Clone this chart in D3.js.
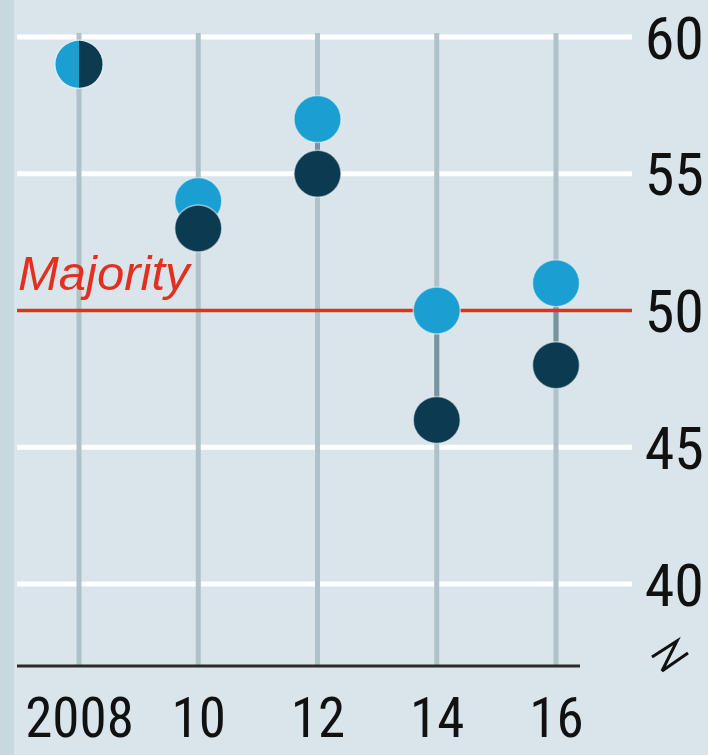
<!DOCTYPE html>
<html>
<head>
<meta charset="utf-8">
<script src="https://cdn.jsdelivr.net/npm/d3@7"></script>
<style>
  html, body { margin: 0; padding: 0; background: #d9e5eb; }
  svg { display: block; }
</style>
</head>
<body>
<svg id="chart" width="708" height="755"></svg>
<script>
// Election years and the two shares (per cent) plotted for each
const years = [2008, 2010, 2012, 2014, 2016];
const yearLabels = ["2008", "10", "12", "14", "16"];
const lightValues = [59, 54, 57, 50, 51];
const darkValues = [59, 53, 55, 46, 48];
const yTicks = [40, 45, 50, 55, 60];
const majorityLevel = 50;

const W = 708, H = 755;
const svg = d3.select("#chart");

const colors = {
  bg: "#d9e5eb",
  strip: "#c9d8df",
  grid: "#ffffff",
  stem: "#afc1c9",
  stemDark: "#7893a0",
  light: "#1b9fd2",
  dark: "#0c3a51",
  red: "#e3301e",
  axis: "#2a2a2a",
  text: "#111111"
};
const digitFont = "'Liberation Sans Narrow', 'Roboto Condensed', 'DejaVu Sans Condensed', sans-serif";

const x = d3.scaleLinear().domain([2008, 2016]).range([79, 556]);
const y = d3.scaleLinear().domain([40, 60]).range([584, 37]);
const plotLeft = 17, plotRight = 632, gridRight = 632, baseRight = 580;
const baseY = y(37);
const r = 23.5;

// background and left strip
svg.append("rect").attr("width", W).attr("height", H).attr("fill", colors.bg);
svg.append("rect").attr("width", 14).attr("height", H).attr("fill", colors.strip);

// horizontal gridlines (majority line drawn separately in red)
svg.append("g").selectAll("line")
  .data(yTicks.filter(v => v !== majorityLevel))
  .join("line")
  .attr("x1", plotLeft).attr("x2", gridRight)
  .attr("y1", d => y(d)).attr("y2", d => y(d))
  .attr("stroke", colors.grid).attr("stroke-width", 5);

// right-hand value axis labels
const yAxis = d3.axisRight(y).tickValues(yTicks).tickSize(0).tickPadding(0);
const gy = svg.append("g").attr("transform", `translate(${W - 4},0)`).call(yAxis);
gy.select(".domain").remove();
gy.selectAll("text")
  .attr("text-anchor", "end")
  .attr("x", 0)
  .attr("dy", "0.35em")
  .attr("fill", colors.text)
  .style("font-family", digitFont)
  .style("font-size", "60px");

// vertical stems for each year
svg.append("g").selectAll("line")
  .data(years)
  .join("line")
  .attr("x1", d => x(d)).attr("x2", d => x(d))
  .attr("y1", y(60) - 4).attr("y2", baseY)
  .attr("stroke", colors.stem).attr("stroke-width", 5);

// darker segment linking the two dots
svg.append("g").selectAll("line")
  .data(years.map((yr, i) => ({ yr, a: lightValues[i], b: darkValues[i] })))
  .join("line")
  .attr("x1", d => x(d.yr)).attr("x2", d => x(d.yr))
  .attr("y1", d => y(d.a)).attr("y2", d => y(d.b))
  .attr("stroke", colors.stemDark).attr("stroke-width", 5);

// majority line and label
svg.append("line")
  .attr("x1", plotLeft).attr("x2", plotRight)
  .attr("y1", y(majorityLevel)).attr("y2", y(majorityLevel))
  .attr("stroke", colors.red).attr("stroke-width", 3.5);
svg.append("text")
  .attr("x", 18).attr("y", y(majorityLevel) - 21)
  .attr("fill", colors.red)
  .style("font-family", "'Liberation Sans', Arial, sans-serif")
  .style("font-style", "italic")
  .style("font-size", "49px")
  .text("Majority");

// baseline and year labels
svg.append("line")
  .attr("x1", plotLeft).attr("x2", baseRight)
  .attr("y1", baseY).attr("y2", baseY)
  .attr("stroke", colors.axis).attr("stroke-width", 3);

const xAxis = d3.axisBottom(x).tickValues(years)
  .tickFormat((d, i) => yearLabels[i]).tickSize(0).tickPadding(0);
const gx = svg.append("g").attr("transform", `translate(0,${baseY})`).call(xAxis);
gx.select(".domain").remove();
gx.selectAll("text")
  .attr("y", 71).attr("dy", 0)
  .attr("fill", colors.text)
  .style("font-family", digitFont)
  .style("font-size", "55px");

// axis break mark below the value labels
svg.append("path")
  .attr("d", "M652,657 L677,641 L662,671 L688,653")
  .attr("fill", "none").attr("stroke", colors.text)
  .attr("stroke-width", 3).attr("stroke-linejoin", "miter");

// dots
const dots = svg.append("g");
years.forEach((yr, i) => {
  const cx = x(yr);
  if (lightValues[i] === darkValues[i]) {
    const cy = y(lightValues[i]);
    const arc = d3.arc().innerRadius(0).outerRadius(r);
    dots.append("circle").attr("cx", cx).attr("cy", cy).attr("r", r + 1.5)
      .attr("fill", "#e6eef2").attr("opacity", 0.7);
    dots.append("path").attr("transform", `translate(${cx},${cy})`)
      .attr("d", arc({ startAngle: Math.PI, endAngle: 2 * Math.PI }))
      .attr("fill", colors.light);
    dots.append("path").attr("transform", `translate(${cx},${cy})`)
      .attr("d", arc({ startAngle: 0, endAngle: Math.PI }))
      .attr("fill", colors.dark);
  } else {
    [[lightValues[i], colors.light], [darkValues[i], colors.dark]].forEach(([v, c]) => {
      dots.append("circle").attr("cx", cx).attr("cy", y(v)).attr("r", r)
        .attr("fill", c)
        .attr("stroke", "#e6eef2").attr("stroke-opacity", 0.6).attr("stroke-width", 1.5);
    });
  }
});
</script>
</body>
</html>
